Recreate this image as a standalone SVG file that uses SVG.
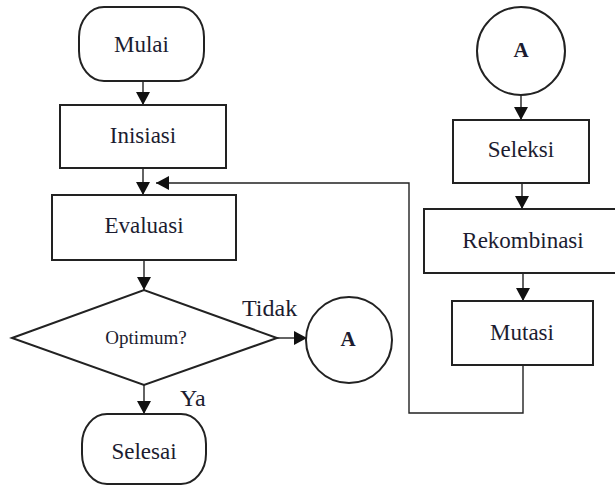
<svg xmlns="http://www.w3.org/2000/svg" width="615" height="486" viewBox="0 0 615 486">
<style>
.box{fill:#fff;stroke:#222;stroke-width:2}
.ln{fill:none;stroke:#222;stroke-width:1.4}
text{font-family:"Liberation Serif","Times New Roman",serif;font-size:23px;fill:#1c1c30;text-anchor:middle}
.sm{font-size:19px}
.lb{font-size:24px;text-anchor:start}
.a{font-weight:bold;font-size:21px}
</style>
<defs>
<marker id="arr" markerUnits="userSpaceOnUse" markerWidth="14" markerHeight="14" refX="13" refY="7" orient="auto" viewBox="0 0 14 14">
<path d="M0,0 L13,7 L0,14 z" fill="#111"/>
</marker>
</defs>
<rect width="615" height="486" fill="#fff"/>
<g id="connectors">
<line class="ln" x1="143" y1="81" x2="143" y2="105" marker-end="url(#arr)"/>
<line class="ln" x1="143" y1="168" x2="143" y2="195" marker-end="url(#arr)"/>
<line class="ln" x1="144" y1="260" x2="144" y2="290" marker-end="url(#arr)"/>
<line class="ln" x1="144" y1="385" x2="144" y2="414" marker-end="url(#arr)"/>
<line class="ln" x1="277" y1="338" x2="307" y2="338" marker-end="url(#arr)"/>
<line class="ln" x1="521" y1="95" x2="521" y2="120" marker-end="url(#arr)"/>
<line class="ln" x1="522" y1="183" x2="522" y2="209" marker-end="url(#arr)"/>
<line class="ln" x1="523" y1="273" x2="523" y2="301" marker-end="url(#arr)"/>
<polyline class="ln" points="523,365 523,413 409,413 409,183 156,183" marker-end="url(#arr)"/>
<text class="lb" x="242" y="316">Tidak</text>
<text class="lb" x="180" y="406">Ya</text>
</g>
<g id="mulai">
<rect class="box" x="79" y="7" width="125" height="74" rx="25" ry="30"/>
<text x="141.5" y="52">Mulai</text>
</g>
<g id="inisiasi">
<rect class="box" x="60" y="105" width="166" height="63"/>
<text x="143" y="143">Inisiasi</text>
</g>
<g id="evaluasi">
<rect class="box" x="52" y="195" width="184" height="65"/>
<text x="144" y="233">Evaluasi</text>
</g>
<g id="optimum">
<polygon class="box" points="12,338 144,290 277,338 144,385"/>
<text class="sm" x="146" y="344">Optimum?</text>
</g>
<g id="a-out">
<circle class="box" cx="349" cy="340" r="43"/>
<text class="a" x="348" y="346">A</text>
</g>
<g id="selesai">
<rect class="box" x="82" y="414" width="124" height="70" rx="25" ry="30"/>
<text x="144" y="459">Selesai</text>
</g>
<g id="a-in">
<circle class="box" cx="521" cy="51" r="44"/>
<text class="a" x="521" y="57">A</text>
</g>
<g id="seleksi">
<rect class="box" x="453" y="120" width="136" height="63"/>
<text x="521" y="157">Seleksi</text>
</g>
<g id="rekombinasi">
<rect class="box" x="424" y="209" width="198" height="64"/>
<text x="523" y="248">Rekombinasi</text>
</g>
<g id="mutasi">
<rect class="box" x="452" y="301" width="141" height="64"/>
<text x="522" y="340">Mutasi</text>
</g>
</svg>
